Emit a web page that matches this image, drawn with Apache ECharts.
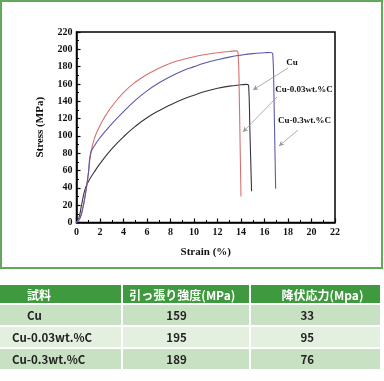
<!DOCTYPE html>
<html><head><meta charset="utf-8">
<script src="https://cdn.jsdelivr.net/npm/echarts@6/dist/echarts.min.js"></script>
<style>
html,body{margin:0;padding:0;background:#fff;width:384px;height:381px;overflow:hidden;}
#chart{position:absolute;left:0;top:0;width:384px;height:381px;}
#frame{position:absolute;left:0;top:0;width:383px;height:269px;box-sizing:border-box;border:2.5px solid #62a75a;pointer-events:none;}
#tbl{position:absolute;left:0;top:285px;width:380px;border-collapse:collapse;font-family:"Noto Sans CJK JP","Noto Sans",sans-serif;font-size:11.5px;font-weight:bold;color:#222;}
#tbl td,#tbl th{padding:0;height:20px;border-left:2px solid #fff;border-top:2px solid #fff;text-align:left;white-space:nowrap;}
#tbl th{background:#3f9a3f;color:#fff;font-size:12px;height:18px;border-top:none;}
#tbl tr.odd td{background:#c8e1c2;}
#tbl tr.even td{background:#e3f0df;}
#tbl td:first-child,#tbl th:first-child{border-left:none;}
</style>
</head><body>
<div id="chart"></div>
<div id="frame"></div>
<table id="tbl"></table>
<script>
// ---- data ----
const seriesNames = ["Cu", "Cu-0.03wt.%C", "Cu-0.3wt.%C"];
const cuCurve = [[0,0],[0.2,5],[0.4,18],[0.7,37],[1.0,47],[1.5,58],[2,68],[3,85],[4,99],[5,111],[6,121],[7,129],[8,136],[9,142],[10,147],[11,151.5],[12,155],[13,157.5],[14,159],[14.5,159.5],[14.65,158],[14.75,110],[14.9,36]];
const cu003Curve = [[0,0],[0.3,6],[0.5,15],[0.75,32],[1.0,55],[1.2,78],[1.5,96],[2.0,112],[2.5,124],[3,134],[4,150],[5,162],[6,171],[7,178],[8,184],[9,188],[10,191.5],[11,194],[12,196],[13,197.5],[13.6,198.2],[13.75,196],[13.85,150],[14.0,30]];
const cu03Curve = [[0,0],[0.3,5],[0.5,14],[0.75,32],[1.0,56],[1.2,80],[1.5,88],[2.0,98],[2.5,106],[3,114],[4,128],[5,141],[6,152],[7,161],[8,168.5],[9,175],[10,180],[11,184.5],[12,188],[13,191],[14,193.3],[15,195],[16,196],[16.5,196.3],[16.7,195],[16.8,150],[16.95,39]];
const xTicks = {min:0, max:22, interval:2};
const yTicks = {min:0, max:220, interval:20};
const tableHeader = ["試料", "引っ張り強度(MPa)", "降伏応力(Mpa)"];
const samples = ["Cu", "Cu-0.03wt.%C", "Cu-0.3wt.%C"];
const tensileStrength = [159, 195, 189];
const yieldStress = [33, 95, 76];

// ---- table ----
const padHead = [27, 6, 30];
const padRow = [[27, 43, 49], [12, 43, 49], [12, 43, 49]];
const colW = [127, 136, 117];
const tbl = document.getElementById('tbl');
let html = '<tr>' + tableHeader.map((h,i)=>`<th style="width:${colW[i]}px;padding-left:${padHead[i]}px">${h}</th>`).join('') + '</tr>';
samples.forEach((s,r)=>{
  const cells=[s, tensileStrength[r], yieldStress[r]];
  html += `<tr class="${r%2===0?'odd':'even'}">` + cells.map((c,i)=>`<td style="padding-left:${padRow[r][i]}px">${c}</td>`).join('') + '</tr>';
});
tbl.innerHTML = html;

// ---- chart ----
const serif = '"Liberation Serif","Times New Roman",serif';
const chart = echarts.init(document.getElementById('chart'));
const colors = ['#3b3140', '#d86f6f', '#5b5ba6'];
const curves = [cuCurve, cu003Curve, cu03Curve];
const leaders = [
  [[18.0,178.4],[15.02,153.0]],
  [[17.06,144.9],[14.17,104.5]],
  [[18.85,106.8],[17.23,88.3]]
];
const series = curves.map((c,i)=>({
  name: seriesNames[i], type:'line', data:c, showSymbol:false, smooth:0.5,
  lineStyle:{color:colors[i], width:1.1}, itemStyle:{color:colors[i]}, silent:true,
  markLine:{silent:true, symbol:['none','arrow'], symbolSize:[4,5], label:{show:false},
    lineStyle:{color:'#999', width:0.8, type:'solid'},
    data:[[{coord:leaders[i][0]},{coord:leaders[i][1]}]]}
}));
chart.setOption({
  animation:false,
  grid:{left:76.5, top:32, right:49, bottom:158.5, show:true, borderColor:'#000', borderWidth:1.5, backgroundColor:'transparent'},
  xAxis:{type:'value', min:xTicks.min, max:xTicks.max, interval:xTicks.interval,
    name:'Strain (%)', nameLocation:'middle', nameGap:24,
    nameTextStyle:{fontFamily:serif, fontWeight:'bold', fontSize:11, color:'#111'},
    axisLine:{show:true, lineStyle:{color:'#000', width:1.5}},
    axisTick:{show:true, inside:true, length:4, lineStyle:{color:'#000', width:1.2}},
    minorTick:{show:true, splitNumber:2, length:2.5, lineStyle:{color:'#000', width:1}},
    splitLine:{show:false},
    axisLabel:{fontFamily:serif, fontWeight:'bold', fontSize:10, color:'#111', margin:5}},
  yAxis:{type:'value', min:yTicks.min, max:yTicks.max, interval:yTicks.interval,
    name:'Stress (MPa)', nameLocation:'middle', nameGap:31, nameRotate:90,
    nameTextStyle:{fontFamily:serif, fontWeight:'bold', fontSize:11, color:'#111'},
    axisLine:{show:true, lineStyle:{color:'#000', width:1.5}},
    axisTick:{show:true, inside:true, length:4, lineStyle:{color:'#000', width:1.2}},
    minorTick:{show:true, splitNumber:2, length:2.5, lineStyle:{color:'#000', width:1}},
    splitLine:{show:false},
    axisLabel:{fontFamily:serif, fontWeight:'bold', fontSize:10, color:'#111', margin:4}},
  series: series,
  graphic:[
    {type:'text', x:292, y:63, style:{text:seriesNames[0], font:'bold 9px '+serif, fill:'#111', align:'center', verticalAlign:'middle'}},
    {type:'text', x:304, y:90, style:{text:seriesNames[1], font:'bold 9px '+serif, fill:'#111', align:'center', verticalAlign:'middle'}},
    {type:'text', x:304.5, y:121, style:{text:seriesNames[2], font:'bold 9px '+serif, fill:'#111', align:'center', verticalAlign:'middle'}}
  ]
});
</script>
</body></html>
